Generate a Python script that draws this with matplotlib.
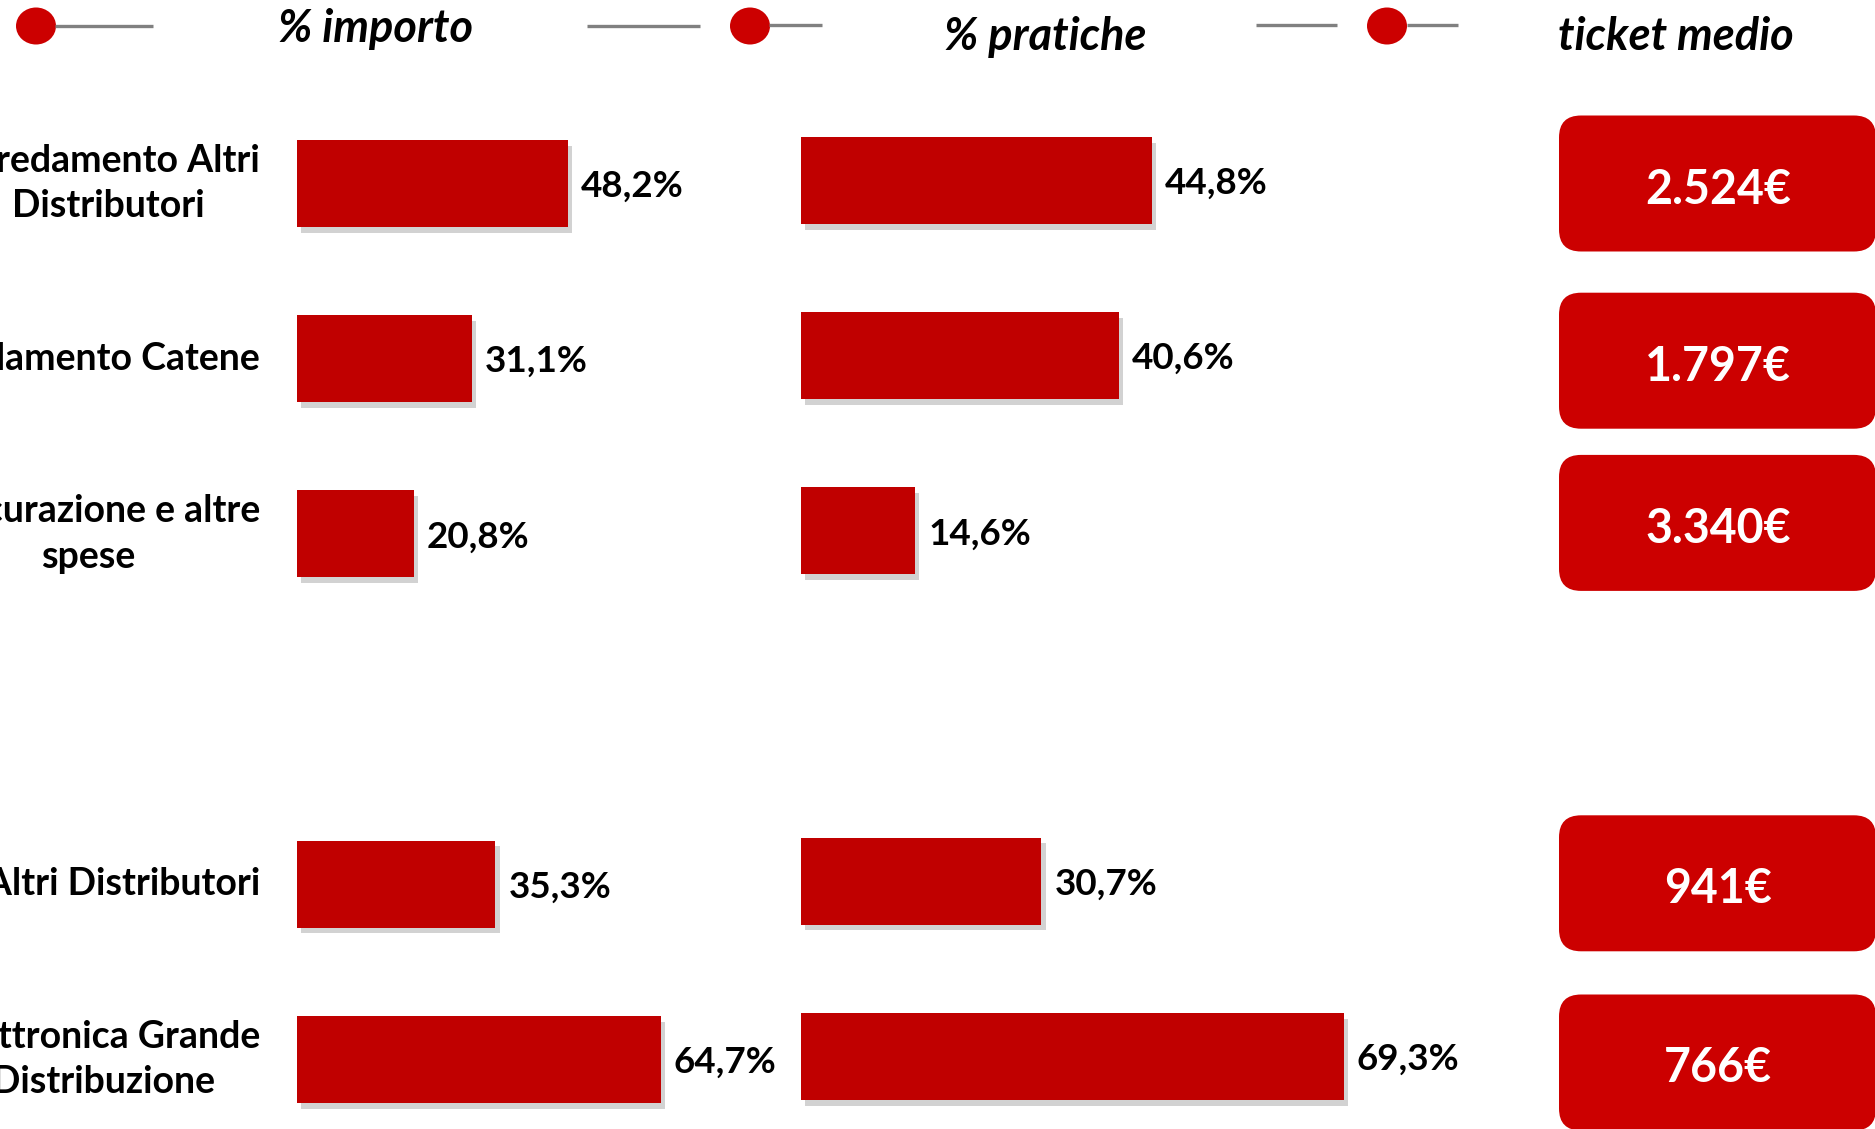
import matplotlib

matplotlib.use("Agg")
import matplotlib.pyplot as plt
import matplotlib.patheffects as pe
from matplotlib.patches import Ellipse, FancyBboxPatch

plt.rcParams["font.family"] = ["Lato", "DejaVu Sans"]

# categories and values
CATEGORIES = [
    "Arredamento Altri\nDistributori",
    "Arredamento Catene",
    "Assicurazione e altre\nspese",
    "Elettronica Altri Distributori",
    "Elettronica Grande\nDistribuzione",
]
ROW_POS = [0, 1, 2, 4, 5]
PCT_IMPORTO = [48.2, 31.1, 20.8, 35.3, 64.7]
PCT_PRATICHE = [44.8, 40.6, 14.6, 30.7, 69.3]
TICKET_MEDIO = [2524, 1797, 3340, 941, 766]
HEADERS = ["% importo", "% pratiche", "ticket medio"]

BAR_RED = "#C00000"
BOX_RED = "#CC0000"
LINE_GREY = "#808080"

W, H = 1875, 1129
ROW_STEP = 175.2
BAR_H = 0.497
# the ticket boxes don't sit exactly on the bar rows
BOX_NUDGE_PX = [0, 2, -11, -1, 3]


def pct(v):
    return f"{v:.1f}%".replace(".", ",")


def euro(v):
    return f"{v:,}".replace(",", ".") + "€"


def bar_axes(fig, left_px, px_per_unit, xmax, first_row_px):
    ax = fig.add_axes([left_px / W, 0, px_per_unit * xmax / W, 1])
    ax.set_xlim(0, xmax)
    ax.set_ylim((H - first_row_px) / ROW_STEP, -first_row_px / ROW_STEP)
    ax.axis("off")
    return ax


def draw_bars(ax, values):
    shadow = [pe.SimplePatchShadow(offset=(3, -4), shadow_rgbFace="0.5", alpha=0.35), pe.Normal()]
    bars = ax.barh(ROW_POS, values, height=BAR_H, color=BAR_RED, linewidth=0)
    for bar in bars:
        bar.set_path_effects(shadow)
    for v, r in zip(values, ROW_POS):
        ax.annotate(pct(v), xy=(v, r), xytext=(13, -3), textcoords="offset pixels",
                    ha="left", va="center", fontsize=26.5, fontweight="bold", color="black")


fig = plt.figure(figsize=(W / 100, H / 100), dpi=100)

ax_imp = bar_axes(fig, 297, 5.62, 100, 183.5)
ax_pra = bar_axes(fig, 801, 7.83, 80, 180.5)
draw_bars(ax_imp, PCT_IMPORTO)
draw_bars(ax_pra, PCT_PRATICHE)

# row labels run off the left edge of the slide
for label, r in zip(CATEGORIES, ROW_POS):
    ax_imp.annotate(label, xy=(0, r), xytext=(-37, 0), textcoords="offset pixels",
                    ha="right", va="center", multialignment="center", linespacing=1.42,
                    fontsize=27, fontweight="bold", color="black", annotation_clip=False)

# overlay in pixel units for the header and the ticket boxes
ov = fig.add_axes([0, 0, 1, 1])
ov.set_xlim(0, W)
ov.set_ylim(H, 0)
ov.axis("off")

for x0, x1, y in [(55, 153, 26), (587, 700, 26), (769, 822, 25), (1256, 1337, 25), (1407, 1458, 25)]:
    ov.plot([x0, x1], [y, y], color=LINE_GREY, lw=2.4, solid_capstyle="butt")
for cx in (36, 750, 1387):
    ov.add_patch(Ellipse((cx, 26), 40, 37, color=BOX_RED, lw=0))

for text, cx, base in zip(HEADERS, (376, 1045, 1676), (42, 50, 50)):
    ov.text(cx, base, text, ha="center", va="baseline", fontsize=32.5,
            fontweight="bold", fontstyle="italic", color="black")

to_px = ov.transData.inverted()
for v, r, nudge in zip(TICKET_MEDIO, ROW_POS, BOX_NUDGE_PX):
    _, cy = to_px.transform(ax_imp.transData.transform((0, r)))
    cy += nudge
    box = FancyBboxPatch((1559, cy - 68), 317, 136, boxstyle="round,pad=0,rounding_size=22",
                         facecolor=BOX_RED, edgecolor="none")
    ov.add_patch(box)
    ov.text(1718, cy + 6, euro(v), ha="center", va="center", fontsize=33.5,
            fontweight="bold", color="white")

fig.savefig("out.png", dpi=100, facecolor="white")
